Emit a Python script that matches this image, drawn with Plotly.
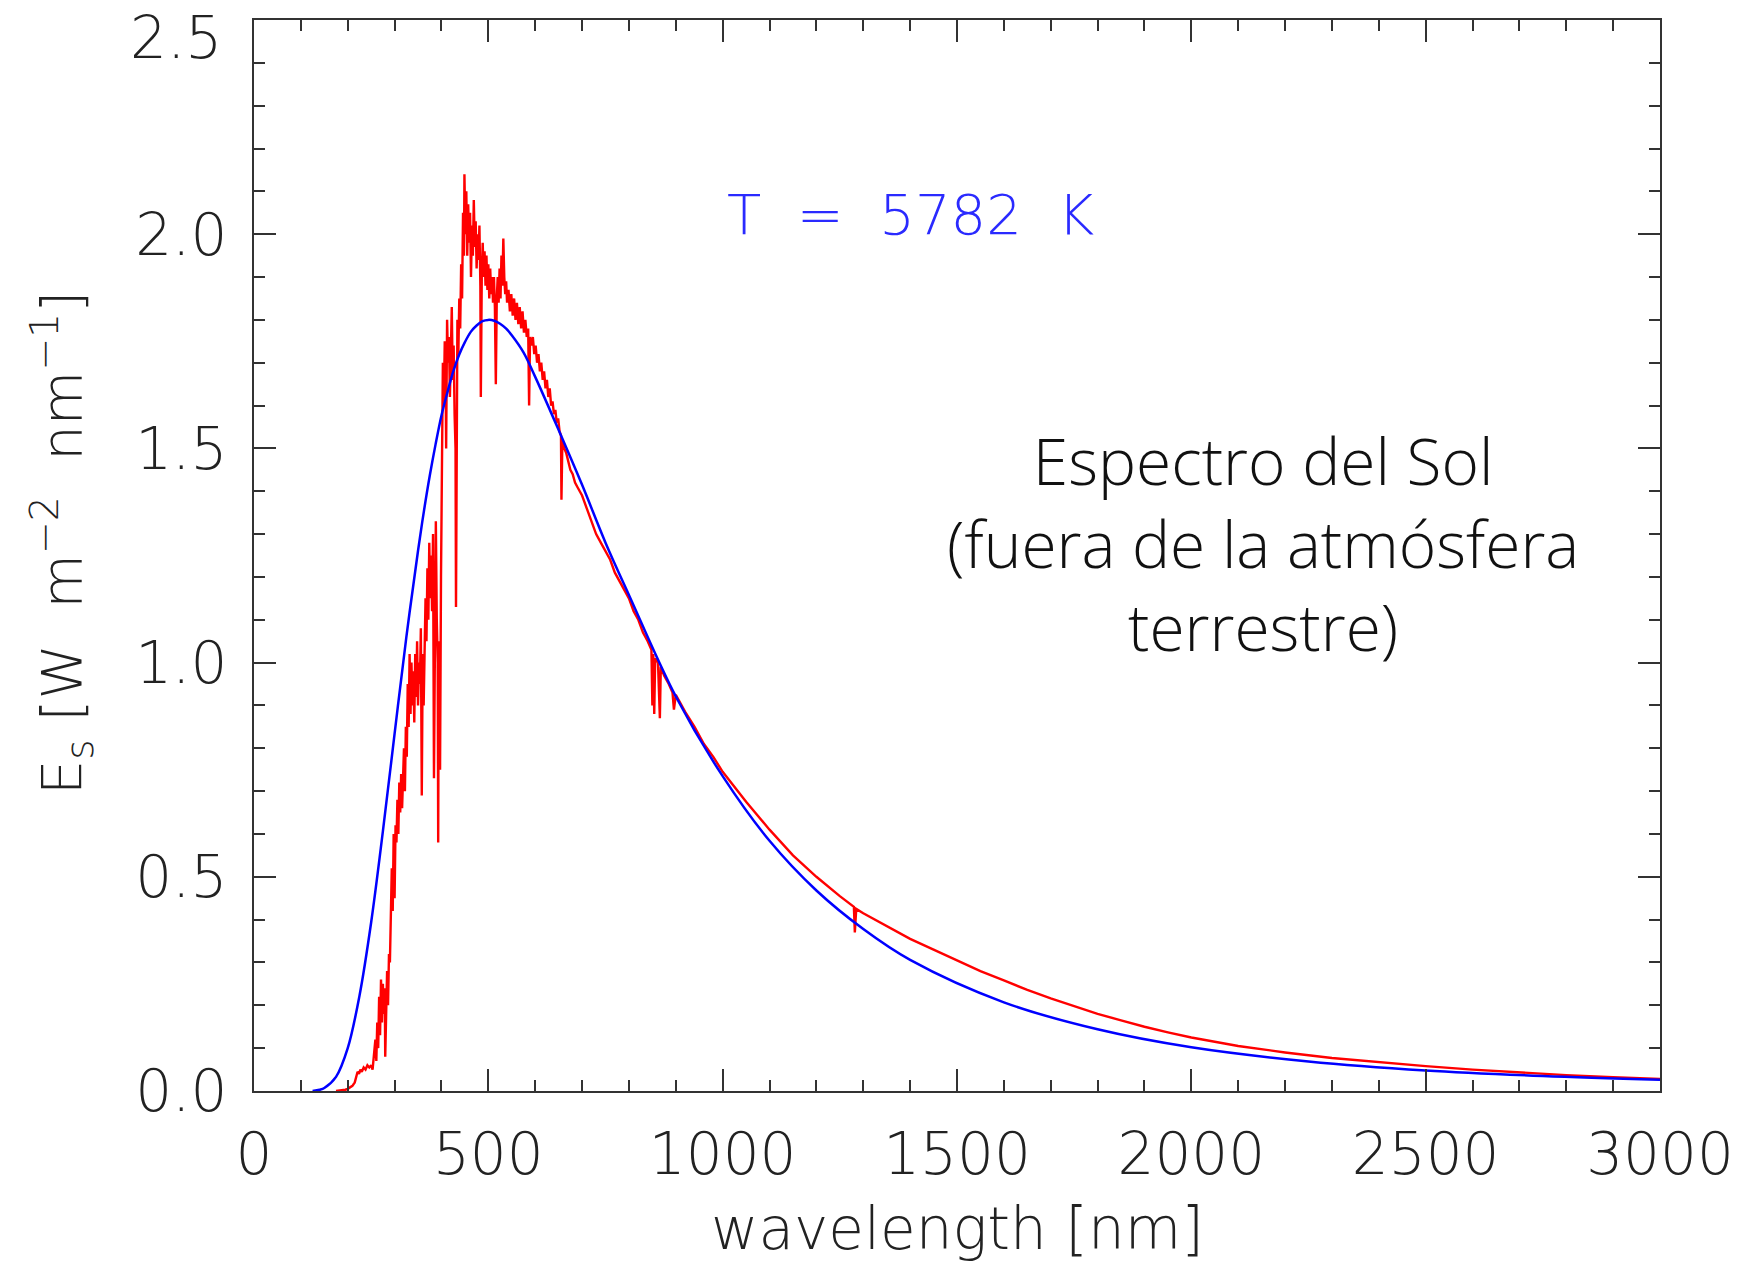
import plotly.graph_objects as go

# ---- data ----
blue_nm = [125, 140, 150, 175, 200, 225, 250, 275, 300, 325, 350, 362.5, 375, 387.5, 400, 412.5, 425,
           437.5, 450, 462.5, 475, 487.5, 500, 512.5, 525, 537.5, 550, 575, 600, 650, 700, 750, 800,
           900, 1000, 1100, 1200, 1300, 1400, 1600, 1800, 2000, 2250, 2500, 2750, 3000]
blue_val = [0.0, 0.003, 0.007, 0.033, 0.100, 0.222, 0.394, 0.606, 0.834, 1.059, 1.261, 1.353, 1.436,
            1.510, 1.577, 1.630, 1.679, 1.718, 1.748, 1.772, 1.787, 1.797, 1.800, 1.798, 1.791, 1.780,
            1.764, 1.724, 1.667, 1.543, 1.415, 1.280, 1.158, 0.921, 0.735, 0.584, 0.468, 0.378, 0.306,
            0.207, 0.144, 0.102, 0.069, 0.048, 0.035, 0.026]

red_nm = [175, 185, 195, 200, 205, 210, 215, 218, 221, 224, 227, 230, 234, 238, 242, 246, 250, 253,
          256, 259, 261, 263, 265, 267, 269, 271, 273, 275, 277, 279, 280, 282, 284, 286, 288, 290,
          292, 294, 296, 298, 300, 302, 304, 306, 308, 310, 312, 314, 316, 318, 320, 322, 324, 326,
          328, 330, 332, 334, 336, 338, 340, 342, 344, 346, 348, 350, 352, 354, 356, 358, 360, 362,
          364, 366, 368, 370, 372, 374, 376, 378, 380, 382, 384, 386, 388, 390, 392, 393, 394, 396,
          397, 399, 401, 403, 405, 407, 409, 410, 412, 414, 416, 418, 420, 422, 424, 426, 428, 430,
          431, 432, 434, 436, 438, 440, 442, 444, 446, 448, 449, 451, 453, 455, 457, 459, 461, 463,
          465, 467, 469, 471, 473, 475, 477, 479, 481, 483, 484, 486, 488, 490, 492, 494, 496, 498,
          500, 502, 504, 506, 508, 510, 512, 514, 516, 518, 520, 522, 524, 526, 528, 530, 532, 534,
          536, 538, 540, 543, 546, 549, 552, 555, 558, 561, 564, 567, 570, 573, 576, 579, 582, 585,
          587, 589, 592, 595, 598, 601, 604, 607, 610, 613, 616, 619, 622, 625, 628, 631, 634, 637,
          640, 643, 646, 649, 652, 655, 656, 658, 662, 666, 670, 675, 680, 685, 690, 695, 700, 710,
          720, 730, 740, 750, 760, 770, 780, 790, 800, 810, 820, 830, 840, 848, 850, 852, 854, 856,
          862, 866, 868, 875, 885, 893, 896, 900, 920, 940, 960, 980, 1000, 1050, 1100, 1150, 1200,
          1250, 1280, 1282, 1285, 1300, 1350, 1400, 1450, 1500, 1550, 1600, 1650, 1700, 1750, 1800,
          1850, 1900, 1950, 2000, 2100, 2200, 2300, 2400, 2500, 2600, 2700, 2800, 2900, 3000]
red_val = [0.0, 0.001, 0.003, 0.005, 0.008, 0.012, 0.02, 0.03, 0.045, 0.04, 0.05, 0.045, 0.055, 0.05,
           0.06, 0.055, 0.06, 0.05, 0.08, 0.12, 0.07, 0.16, 0.1, 0.22, 0.13, 0.26, 0.16, 0.25, 0.18,
           0.24, 0.08, 0.22, 0.28, 0.2, 0.32, 0.3, 0.45, 0.52, 0.42, 0.6, 0.45, 0.62, 0.58, 0.68, 0.6,
           0.72, 0.65, 0.74, 0.66, 0.72, 0.8, 0.7, 0.85, 0.78, 0.95, 0.85, 1.02, 0.88, 1.0, 0.9, 0.98,
           0.86, 1.02, 0.92, 1.05, 0.9, 1.0, 0.95, 1.08, 0.69, 1.02, 0.9, 1.1, 1.15, 1.05, 1.22, 1.1,
           1.28, 1.15, 1.25, 1.12, 1.3, 0.73, 1.2, 1.33, 1.1, 1.0, 0.58, 0.95, 1.05, 0.75, 1.2, 1.55,
           1.7, 1.6, 1.75, 1.65, 1.5, 1.8, 1.7, 1.76, 1.62, 1.72, 1.83, 1.66, 1.74, 1.58, 1.5, 1.13,
           1.55, 1.8, 1.72, 1.85, 1.78, 1.93, 1.85, 2.05, 1.95, 2.14, 2.0, 2.1, 1.95, 2.07, 1.98, 2.05,
           1.9, 2.02, 1.95, 2.08, 1.97, 2.03, 1.92, 2.0, 1.94, 2.02, 1.88, 1.62, 1.9, 1.98, 1.9, 1.96,
           1.88, 1.95, 1.87, 1.93, 1.85, 1.92, 1.86, 1.9, 1.84, 1.9, 1.83, 1.65, 1.85, 1.9, 1.84, 1.92,
           1.85, 1.95, 1.88, 1.99, 1.9, 1.86, 1.89, 1.84, 1.87, 1.82, 1.86, 1.81, 1.85, 1.8, 1.84, 1.79,
           1.83, 1.78, 1.82, 1.77, 1.8, 1.76, 1.78, 1.6, 1.76, 1.74, 1.76, 1.72, 1.74, 1.7, 1.72, 1.68,
           1.7, 1.66, 1.68, 1.64, 1.66, 1.62, 1.64, 1.6, 1.61, 1.58, 1.59, 1.56, 1.57, 1.54, 1.53, 1.38,
           1.52, 1.5, 1.49, 1.47, 1.45, 1.44, 1.42, 1.41, 1.4, 1.39, 1.36, 1.33, 1.3, 1.28, 1.26, 1.24,
           1.21, 1.19, 1.17, 1.15, 1.12, 1.1, 1.07, 1.05, 1.03, 0.9, 1.02, 0.88, 1.01, 1.0, 0.87, 0.99,
           0.97, 0.95, 0.93, 0.89, 0.925, 0.885, 0.85, 0.81, 0.78, 0.745, 0.675, 0.61, 0.55, 0.5, 0.455,
           0.43, 0.37, 0.425, 0.415, 0.385, 0.355, 0.33, 0.305, 0.28, 0.258, 0.236, 0.216, 0.198, 0.18,
           0.165, 0.15, 0.137, 0.125, 0.105, 0.09, 0.077, 0.067, 0.058, 0.05, 0.043, 0.037, 0.032, 0.028]

x_ticks = [0, 500, 1000, 1500, 2000, 2500, 3000]
x_tick_labels = ["0", "500", "1000", "1500", "2000", "2500", "3000"]
y_ticks = [0.0, 0.5, 1.0, 1.5, 2.0, 2.5]
y_tick_labels = ["0.0", "0.5", "1.0", "1.5", "2.0", "2.5"]

AX_FONT = dict(family="DejaVu Sans", size=58, color="#222222", weight=300)

fig = go.Figure()
fig.add_trace(go.Scatter(x=red_nm, y=red_val, mode="lines",
                         line=dict(color="#ff0000", width=2.4), showlegend=False))
fig.add_trace(go.Scatter(x=blue_nm, y=blue_val, mode="lines",
                         line=dict(color="#0000ff", width=2.5, shape="spline", smoothing=1.0),
                         showlegend=False))

axis_common = dict(showgrid=False, zeroline=False, showline=True, linecolor="#333333", linewidth=2,
                   mirror="ticks", ticks="inside", tickcolor="#333333", tickwidth=2, ticklen=22,
                   tickfont=AX_FONT)

fig.update_xaxes(range=[0, 3000], tickvals=x_ticks, ticktext=x_tick_labels,
                 minor=dict(dtick=100, ticks="inside", ticklen=11, tickcolor="#333333", tickwidth=2),
                 ticklabelstandoff=11, **axis_common)
# the top label (2.5) sits lower than its tick in the original; it is drawn as an annotation below
fig.update_yaxes(range=[0, 2.5], tickvals=y_ticks, ticktext=y_tick_labels[:-1] + [""],
                 minor=dict(dtick=0.1, ticks="inside", ticklen=11, tickcolor="#333333", tickwidth=2),
                 ticklabelstandoff=13, **axis_common)

fig.add_annotation(text=y_tick_labels[-1], xref="paper", yref="paper", x=-0.0215, y=0.983,
                   xanchor="right", yanchor="middle", showarrow=False, font=AX_FONT)
fig.add_annotation(text="wavelength [nm]", xref="paper", yref="paper", x=0.5, y=-0.129,
                   xanchor="center", yanchor="middle", showarrow=False, font=AX_FONT)
fig.add_annotation(text="E<sub>s</sub> [W  m<sup>−2</sup>  nm<sup>−1</sup>]", xref="paper", yref="paper",
                   x=-0.137, y=0.512, xanchor="center", yanchor="middle", textangle=-90,
                   showarrow=False, font=dict(family="DejaVu Sans", size=56, color="#222222", weight=300))
fig.add_annotation(text="T  =  5782  K", x=1401, y=2.047, xanchor="center", yanchor="middle",
                   showarrow=False, font=dict(family="DejaVu Sans", size=56, color="#2a2aff", weight=300))
fig.add_annotation(text="Espectro del Sol<br>(fuera de la atmósfera<br>terrestre)", x=2152, y=1.278,
                   xanchor="center", yanchor="middle", align="center", showarrow=False,
                   font=dict(family="Open Sans", size=64, color="#111111", weight=300))

fig.update_layout(width=1746, height=1262, margin=dict(l=254, r=81, t=20, b=171),
                  plot_bgcolor="white", paper_bgcolor="white")

fig.write_html("out.html")
